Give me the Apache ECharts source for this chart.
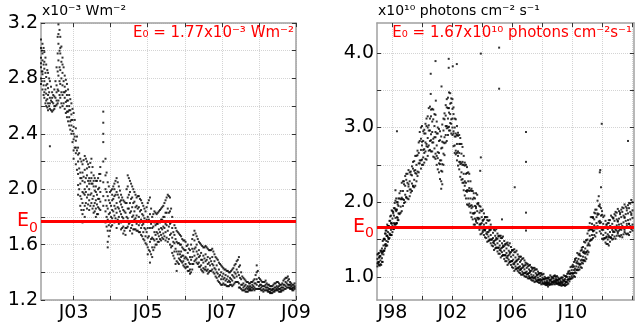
<!DOCTYPE html>
<html lang="en">
<head>
    <meta charset="UTF-8">
    <title>E0 irradiance and photon flux</title>
    <script src="https://cdn.jsdelivr.net/npm/echarts@6/dist/echarts.min.js"></script>
    <style>
        body { margin: 0; background: #fff; }
    </style>
</head>
<body>
<div id="chart" style="width: 635px;height: 323px;"></div>
<script>
    // left panel: [year, values...] read column by column (x10^-3 W m^-2)
    var leftCols = [
        [2002.12, 3.08,2.95,2.88,2.80,2.76,3.02,2.91],
        [2002.16, 3.05,2.98,2.85,2.72,2.83,2.93],
        [2002.21, 2.99,2.87,2.78,2.66,2.92,2.70],
        [2002.26, 2.90,2.81,2.69,2.60,2.75,2.64],
        [2002.31, 2.84,2.73,2.62,2.57,2.68],
        [2002.36, 2.78,2.66,2.58,2.31,2.62],
        [2002.42, 2.70,2.63,2.56,2.66],
        [2002.48, 2.72,2.60,2.67,2.58],
        [2002.54, 2.88,2.75,2.64,2.70,2.61],
        [2002.59, 3.19,3.05,2.93,2.82,2.71,2.64,3.12],
        [2002.64, 3.10,2.98,2.86,2.76,2.66,2.59,3.02],
        [2002.70, 2.95,2.84,2.75,2.68,2.60,2.90],
        [2002.76, 2.82,2.74,2.66,2.58,2.70],
        [2002.82, 2.76,2.68,2.60,2.52,2.64,2.56],
        [2002.88, 2.68,2.60,2.52,2.46,2.57],
        [2002.94, 2.62,2.54,2.46,2.40,2.50],
        [2003.00, 2.55,2.45,2.36,2.28,2.40,2.22],
        [2003.06, 2.44,2.35,2.26,2.18,2.30],
        [2003.12, 2.30,2.20,2.11,2.03,2.25,1.96],
        [2003.18, 2.22,2.12,2.04,1.95,1.88,2.08],
        [2003.24, 2.18,2.06,1.98,1.90,1.82,1.76,2.12],
        [2003.30, 2.24,2.14,2.05,1.96,1.88,1.80,2.00],
        [2003.36, 2.20,2.10,2.02,1.94,1.86,2.15],
        [2003.42, 2.16,2.08,2.00,1.92,1.85,2.04],
        [2003.48, 2.22,2.12,2.04,1.97,1.90,2.08],
        [2003.54, 2.10,2.02,1.95,1.88,1.83,2.06],
        [2003.60, 2.06,1.98,1.92,1.86,1.80,2.02],
        [2003.66, 2.08,2.00,1.93,1.87,1.82],
        [2003.72, 2.16,2.06,1.98,1.91,1.85,2.11],
        [2003.80, 2.56,2.48,2.40,2.34,2.20,2.05,1.95,1.88],
        [2003.86, 2.22,2.10,2.00,1.92,1.84,1.76],
        [2003.92, 2.05,1.95,1.86,1.78,1.70,1.62,1.58],
        [2003.98, 1.98,1.90,1.83,1.76,1.70],
        [2004.04, 2.00,1.92,1.85,1.79,1.74,1.96],
        [2004.10, 2.04,1.95,1.88,1.81,1.76,2.00],
        [2004.16, 2.08,1.98,1.90,1.83,1.77,1.72],
        [2004.22, 2.02,1.94,1.86,1.80,1.75],
        [2004.28, 1.96,1.89,1.82,1.76,1.71,1.92],
        [2004.34, 1.92,1.85,1.79,1.73,1.68],
        [2004.40, 1.90,1.83,1.77,1.72,1.67],
        [2004.46, 2.10,2.02,1.94,1.86,1.79,1.73],
        [2004.52, 2.06,1.98,1.90,1.83,1.76,1.70],
        [2004.58, 2.02,1.94,1.87,1.80,1.74,1.68],
        [2004.64, 1.98,1.91,1.84,1.78,1.71],
        [2004.70, 1.94,1.88,1.81,1.75,1.70],
        [2004.76, 1.95,1.87,1.80,1.74,1.69],
        [2004.82, 1.92,1.85,1.78,1.72,1.67],
        [2004.88, 1.88,1.81,1.75,1.69,1.64],
        [2004.94, 1.84,1.77,1.71,1.66,1.61],
        [2005.00, 1.90,1.80,1.72,1.65,1.58,1.53],
        [2005.06, 1.94,1.82,1.72,1.62,1.55,1.47],
        [2005.12, 1.80,1.72,1.65,1.58,1.51],
        [2005.18, 1.84,1.76,1.69,1.63,1.58],
        [2005.24, 1.82,1.75,1.69,1.64,1.60],
        [2005.30, 1.84,1.77,1.71,1.66,1.62],
        [2005.36, 1.86,1.78,1.72,1.67,1.63],
        [2005.42, 1.88,1.80,1.73,1.68,1.64],
        [2005.48, 1.92,1.83,1.75,1.69,1.63],
        [2005.54, 1.96,1.86,1.77,1.70,1.62],
        [2005.60, 1.94,1.84,1.75,1.67,1.60],
        [2005.66, 1.80,1.72,1.65,1.59,1.54],
        [2005.72, 1.74,1.67,1.61,1.55,1.50],
        [2005.78, 1.70,1.62,1.55,1.48,1.41],
        [2005.84, 1.68,1.61,1.55,1.50,1.46],
        [2005.90, 1.66,1.60,1.55,1.51,1.48],
        [2005.96, 1.63,1.57,1.52,1.48,1.45],
        [2006.02, 1.62,1.56,1.51,1.46,1.43],
        [2006.08, 1.60,1.54,1.49,1.44,1.41],
        [2006.14, 1.56,1.51,1.46,1.42,1.39],
        [2006.20, 1.64,1.57,1.51,1.46,1.42],
        [2006.26, 1.70,1.63,1.57,1.52,1.48],
        [2006.32, 1.66,1.60,1.55,1.50,1.47],
        [2006.38, 1.62,1.56,1.51,1.47,1.44],
        [2006.44, 1.60,1.54,1.49,1.45,1.42],
        [2006.50, 1.58,1.52,1.47,1.43,1.40],
        [2006.56, 1.59,1.53,1.48,1.44,1.42],
        [2006.62, 1.57,1.51,1.46,1.42,1.39],
        [2006.68, 1.56,1.50,1.45,1.41],
        [2006.74, 1.57,1.51,1.46,1.42],
        [2006.80, 1.53,1.48,1.43,1.39],
        [2006.86, 1.50,1.45,1.40,1.36],
        [2006.92, 1.47,1.42,1.37,1.33],
        [2006.98, 1.45,1.40,1.35,1.31],
        [2007.04, 1.43,1.39,1.35,1.32],
        [2007.10, 1.42,1.38,1.34,1.31],
        [2007.16, 1.41,1.37,1.33,1.30],
        [2007.22, 1.40,1.36,1.33,1.31],
        [2007.28, 1.42,1.38,1.34,1.30],
        [2007.34, 1.45,1.40,1.36,1.32],
        [2007.40, 1.48,1.42,1.37,1.33],
        [2007.46, 1.51,1.44,1.38,1.32,1.29],
        [2007.52, 1.40,1.35,1.31,1.28],
        [2007.58, 1.36,1.32,1.29,1.27],
        [2007.64, 1.34,1.31,1.28,1.26],
        [2007.70, 1.33,1.30,1.28,1.26],
        [2007.76, 1.32,1.30,1.28,1.27],
        [2007.82, 1.33,1.31,1.29,1.27],
        [2007.88, 1.35,1.32,1.29,1.27],
        [2007.94, 1.45,1.40,1.35,1.31,1.28],
        [2008.00, 1.36,1.33,1.30,1.28],
        [2008.06, 1.34,1.31,1.29,1.27],
        [2008.12, 1.33,1.30,1.28,1.26],
        [2008.18, 1.34,1.31,1.29,1.27],
        [2008.24, 1.31,1.29,1.27,1.26],
        [2008.30, 1.30,1.28,1.26,1.25],
        [2008.36, 1.30,1.28,1.27,1.25],
        [2008.42, 1.32,1.29,1.27,1.26],
        [2008.48, 1.33,1.30,1.28,1.27],
        [2008.54, 1.32,1.30,1.28,1.26],
        [2008.60, 1.31,1.29,1.27,1.26],
        [2008.66, 1.34,1.31,1.29,1.27],
        [2008.72, 1.36,1.33,1.30,1.28],
        [2008.78, 1.37,1.34,1.31,1.29],
        [2008.84, 1.33,1.31,1.29,1.28],
        [2008.90, 1.31,1.29,1.28,1.27],
        [2008.96, 1.32,1.30,1.29,1.28]
    ];

    // left panel, second pass between the columns above
    var leftCols2 = [
        [2002.14, 3.00,2.85,2.78], [2002.19, 3.02,2.90,2.75,2.68], [2002.24, 2.95,2.84,2.72,2.62],
        [2002.29, 2.86,2.76,2.65,2.59], [2002.34, 2.80,2.70,2.60], [2002.39, 2.74,2.64,2.57],
        [2002.45, 2.68,2.62,2.57], [2002.51, 2.78,2.66,2.60], [2002.57, 3.10,2.98,2.85,2.72,2.62],
        [2002.62, 3.15,3.00,2.88,2.78,2.68], [2002.67, 3.03,2.92,2.80,2.70,2.62], [2002.73, 2.88,2.78,2.70,2.62],
        [2002.79, 2.79,2.71,2.63,2.55], [2002.85, 2.72,2.64,2.56,2.49], [2002.91, 2.65,2.57,2.49,2.43],
        [2002.97, 2.58,2.50,2.42,2.34], [2003.03, 2.50,2.38,2.30], [2003.09, 2.38,2.28,2.14],
        [2003.15, 2.26,2.15,2.00], [2003.21, 2.20,2.08,1.93,1.85], [2003.27, 2.21,2.09,1.97,1.85],
        [2003.33, 2.22,2.08,1.98,1.90], [2003.39, 2.18,2.06,1.96,1.89], [2003.45, 2.19,2.06,1.96,1.88],
        [2003.51, 2.16,2.04,1.93,1.86], [2003.57, 2.08,1.99,1.90,1.84], [2003.63, 2.06,1.96,1.89,1.82],
        [2003.69, 2.11,2.01,1.93,1.86], [2003.89, 2.12,1.98,1.88,1.80,1.73], [2003.95, 2.02,1.92,1.82,1.74,1.66],
        [2004.01, 1.99,1.88,1.80,1.73], [2004.07, 2.02,1.93,1.84,1.77], [2004.13, 2.06,1.96,1.86,1.79],
        [2004.19, 2.05,1.96,1.87,1.78], [2004.25, 1.99,1.91,1.84,1.77], [2004.31, 1.94,1.87,1.80,1.72],
        [2004.37, 1.91,1.84,1.77,1.70], [2004.43, 2.00,1.90,1.80,1.72], [2004.49, 2.08,1.96,1.86,1.75],
        [2004.55, 2.04,1.93,1.84,1.72], [2004.61, 2.00,1.90,1.81,1.71], [2004.67, 1.96,1.87,1.79,1.71],
        [2004.73, 1.95,1.86,1.77,1.70], [2004.79, 1.93,1.84,1.76,1.69], [2004.85, 1.90,1.82,1.74,1.66],
        [2004.91, 1.86,1.79,1.72,1.63], [2004.97, 1.87,1.78,1.69,1.60], [2005.03, 1.92,1.78,1.66,1.56],
        [2005.09, 1.86,1.75,1.64,1.53], [2005.15, 1.82,1.73,1.64,1.56], [2005.21, 1.83,1.74,1.67,1.60],
        [2005.27, 1.83,1.75,1.68,1.62], [2005.33, 1.85,1.76,1.69,1.64], [2005.39, 1.87,1.78,1.71,1.65],
        [2005.45, 1.90,1.80,1.72,1.66], [2005.51, 1.94,1.83,1.74,1.65], [2005.57, 1.95,1.83,1.73,1.64],
        [2005.63, 1.86,1.76,1.68,1.58], [2005.69, 1.77,1.69,1.62,1.52], [2005.75, 1.72,1.64,1.57,1.46],
        [2005.81, 1.69,1.61,1.53,1.47], [2005.87, 1.67,1.60,1.53,1.49], [2005.93, 1.64,1.58,1.52,1.47],
        [2005.99, 1.63,1.56,1.50,1.44], [2006.05, 1.59,1.50,1.44], [2006.11, 1.57,1.47,1.41],
        [2006.17, 1.60,1.49,1.40], [2006.23, 1.67,1.55,1.46], [2006.29, 1.68,1.58,1.49],
        [2006.35, 1.64,1.53,1.46], [2006.41, 1.61,1.52,1.44], [2006.47, 1.59,1.49,1.41],
        [2006.53, 1.58,1.50,1.42], [2006.59, 1.58,1.49,1.41], [2006.65, 1.56,1.47,1.40],
        [2006.71, 1.56,1.48,1.41], [2006.77, 1.55,1.45,1.40], [2006.83, 1.51,1.42,1.37],
        [2006.89, 1.49,1.39,1.34], [2006.95, 1.46,1.38,1.32], [2007.01, 1.44,1.37,1.31],
        [2007.07, 1.42,1.36,1.31], [2007.13, 1.41,1.35,1.30], [2007.19, 1.40,1.34,1.30],
        [2007.25, 1.41,1.35,1.31], [2007.31, 1.43,1.37,1.31], [2007.37, 1.46,1.39,1.33],
        [2007.43, 1.49,1.40,1.33], [2007.49, 1.45,1.36,1.29], [2007.55, 1.37,1.31,1.27],
        [2007.61, 1.35,1.30,1.27], [2007.67, 1.33,1.29,1.26], [2007.73, 1.32,1.29,1.27],
        [2007.79, 1.33,1.29,1.27], [2007.85, 1.34,1.30,1.28], [2007.91, 1.38,1.32,1.28],
        [2007.97, 1.41,1.33,1.28], [2008.03, 1.35,1.31,1.28], [2008.09, 1.33,1.30,1.27],
        [2008.15, 1.33,1.30,1.27], [2008.21, 1.32,1.29,1.27], [2008.27, 1.31,1.28,1.26],
        [2008.33, 1.30,1.27,1.25], [2008.39, 1.31,1.28,1.26], [2008.45, 1.32,1.29,1.27],
        [2008.51, 1.33,1.29,1.27], [2008.57, 1.31,1.28,1.26], [2008.63, 1.32,1.29,1.27],
        [2008.69, 1.35,1.31,1.28], [2008.75, 1.36,1.32,1.29], [2008.81, 1.35,1.31,1.29],
        [2008.87, 1.32,1.30,1.28], [2008.93, 1.31,1.29,1.27]
    ];

    // right panel: [year, values...] (x10^10 photons cm^-2 s^-1)
    var rightCols = [
        [1997.00, 1.30,1.24,1.18,1.14],
        [1997.10, 1.32,1.26,1.20,1.16],
        [1997.20, 1.35,1.28,1.22,1.17],
        [1997.30, 1.38,1.31,1.25,1.20],
        [1997.40, 1.50,1.42,1.35,1.30],
        [1997.50, 1.58,1.50,1.43,1.38],
        [1997.60, 1.62,1.55,1.48,1.42],
        [1997.70, 1.68,1.60,1.53,1.47],
        [1997.80, 1.75,1.66,1.58,1.52],
        [1997.90, 1.82,1.72,1.63,1.56],
        [1998.00, 1.88,1.78,1.68,1.60],
        [1998.10, 1.92,1.82,1.72,1.64],
        [1998.20, 2.02,1.90,1.79,1.70,2.16],
        [1998.30, 2.00,1.90,1.80,1.72],
        [1998.40, 2.05,1.95,1.85,1.76],
        [1998.55, 2.15,2.04,1.94,1.86],
        [1998.70, 2.28,2.15,2.04,1.95],
        [1998.85, 2.35,2.22,2.10,2.00],
        [1999.00, 2.38,2.26,2.15,2.05],
        [1999.15, 2.40,2.28,2.17,2.08],
        [1999.30, 2.48,2.36,2.25,2.15],
        [1999.45, 2.55,2.42,2.30,2.20],
        [1999.60, 2.62,2.50,2.38,2.28],
        [1999.75, 2.80,2.66,2.52,2.40],
        [1999.90, 3.00,2.85,2.70,2.56,2.45],
        [2000.05, 2.95,2.82,2.70,2.60,2.50],
        [2000.20, 3.05,2.92,2.80,2.68,2.58],
        [2000.35, 3.15,3.00,2.86,2.74,2.62],
        [2000.50, 3.28,3.12,2.96,2.82,2.70],
        [2000.65, 3.25,3.08,2.94,2.80,2.68],
        [2000.80, 3.18,3.02,2.87,2.72,2.60],
        [2000.95, 3.08,2.92,2.76,2.62,2.50],
        [2001.10, 2.98,2.82,2.66,2.52,2.40],
        [2001.25, 2.88,2.72,2.56,2.42,2.28,2.18],
        [2001.40, 3.12,2.96,2.80,2.65,2.50],
        [2001.55, 3.30,3.16,3.02,2.90,2.80],
        [2001.70, 3.40,3.26,3.12,3.00,2.90],
        [2001.85, 3.46,3.32,3.18,3.06,2.96],
        [2002.00, 3.38,3.25,3.12,3.00,2.90],
        [2002.15, 3.12,3.00,2.88,2.76,2.66],
        [2002.30, 3.02,2.90,2.78,2.66,2.56],
        [2002.45, 2.90,2.78,2.66,2.54,2.44],
        [2002.60, 2.78,2.65,2.52,2.40,2.30],
        [2002.75, 2.62,2.50,2.38,2.26,2.16],
        [2002.90, 2.50,2.38,2.26,2.15,2.05],
        [2003.05, 2.40,2.28,2.16,2.05,1.96],
        [2003.20, 2.28,2.16,2.05,1.95,1.86],
        [2003.35, 2.15,2.04,1.94,1.85,1.77],
        [2003.50, 2.05,1.95,1.86,1.78,1.70],
        [2003.65, 2.10,1.98,1.88,1.79,1.72],
        [2003.80, 1.95,1.86,1.78,1.70,1.63],
        [2003.95, 1.88,1.80,1.72,1.65,1.58],
        [2004.10, 1.85,1.77,1.70,1.63,1.56],
        [2004.25, 1.80,1.72,1.65,1.58,1.52],
        [2004.40, 1.75,1.67,1.60,1.54,1.48],
        [2004.55, 1.70,1.63,1.56,1.50,1.45],
        [2004.70, 1.66,1.59,1.52,1.46,1.41],
        [2004.85, 1.62,1.55,1.49,1.43,1.38],
        [2005.00, 1.58,1.51,1.45,1.39,1.34],
        [2005.15, 1.55,1.48,1.42,1.36,1.31],
        [2005.30, 1.52,1.45,1.39,1.33,1.28],
        [2005.45, 1.48,1.41,1.35,1.29,1.24],
        [2005.60, 1.45,1.38,1.32,1.26,1.21],
        [2005.75, 1.42,1.35,1.29,1.23,1.18],
        [2005.90, 1.40,1.33,1.27,1.21,1.16],
        [2006.05, 1.36,1.29,1.23,1.17,1.12],
        [2006.20, 1.33,1.26,1.20,1.14,1.10],
        [2006.35, 1.30,1.23,1.17,1.12,1.08],
        [2006.50, 1.27,1.20,1.14,1.09,1.05],
        [2006.65, 1.24,1.17,1.12,1.07,1.03],
        [2006.80, 1.22,1.15,1.10,1.05,1.01],
        [2006.95, 1.18,1.12,1.07,1.03,1.00],
        [2007.10, 1.15,1.10,1.05,1.01,0.98],
        [2007.25, 1.13,1.08,1.03,0.99,0.96],
        [2007.40, 1.12,1.07,1.02,0.98,0.95],
        [2007.55, 1.10,1.05,1.00,0.97,0.94],
        [2007.70, 1.07,1.03,0.99,0.96,0.93],
        [2007.85, 1.05,1.01,0.97,0.94,0.92],
        [2008.00, 1.03,0.99,0.96,0.93,0.91],
        [2008.15, 1.00,0.97,0.94,0.92,0.90],
        [2008.30, 0.98,0.95,0.93,0.91,0.89],
        [2008.45, 0.99,0.96,0.93,0.91,0.89],
        [2008.60, 1.00,0.97,0.94,0.92,0.90],
        [2008.75, 1.01,0.98,0.95,0.93,0.91],
        [2008.90, 1.00,0.97,0.95,0.93,0.91],
        [2009.05, 0.99,0.96,0.94,0.92,0.90],
        [2009.20, 0.98,0.95,0.93,0.91,0.89],
        [2009.35, 0.99,0.96,0.93,0.91,0.89],
        [2009.50, 1.01,0.97,0.94,0.91,0.88],
        [2009.65, 1.04,1.00,0.96,0.93,0.90],
        [2009.80, 1.08,1.04,1.00,0.97,0.94],
        [2009.95, 1.14,1.09,1.05,1.01,0.98],
        [2010.10, 1.20,1.14,1.09,1.05,1.01],
        [2010.25, 1.25,1.19,1.14,1.09,1.05],
        [2010.40, 1.30,1.24,1.18,1.13,1.09],
        [2010.55, 1.35,1.28,1.22,1.17,1.13],
        [2010.70, 1.40,1.33,1.27,1.22,1.18],
        [2010.85, 1.46,1.38,1.31,1.26,1.21],
        [2011.00, 1.58,1.50,1.42,1.35,1.30],
        [2011.15, 1.72,1.63,1.55,1.48,1.42],
        [2011.30, 1.80,1.71,1.63,1.56,1.50],
        [2011.45, 1.86,1.77,1.69,1.62,1.56],
        [2011.60, 1.90,1.80,1.72,1.65,1.59],
        [2011.75, 2.08,1.95,1.84,1.74,1.66],
        [2011.90, 1.92,1.82,1.73,1.65,1.58,2.20],
        [2012.05, 1.80,1.71,1.63,1.56,1.50],
        [2012.20, 1.75,1.67,1.59,1.52,1.46],
        [2012.35, 1.72,1.64,1.57,1.50,1.44],
        [2012.50, 1.76,1.68,1.60,1.53,1.47],
        [2012.65, 1.80,1.71,1.63,1.56,1.50],
        [2012.80, 1.84,1.75,1.67,1.60,1.54],
        [2012.95, 1.86,1.77,1.69,1.62,1.55],
        [2013.10, 1.88,1.78,1.70,1.62,1.55],
        [2013.25, 1.90,1.80,1.71,1.63,1.56],
        [2013.40, 1.92,1.82,1.73,1.65,1.57],
        [2013.55, 1.94,1.84,1.75,1.66,1.58],
        [2013.70, 1.96,1.85,1.76,1.67,1.58],
        [2013.85, 1.98,1.87,1.77,1.68,1.60],
        [2014.00, 2.00,1.89,1.79,1.70,1.62]
    ];

    // right panel, second pass between the columns above (scattered values)
    var rightCols2 = [
        [1997.05, 1.31,1.18,1.20], [1997.15, 1.26,1.28,1.15], [1997.25, 1.35,1.33,1.16],
        [1997.35, 1.48,1.33,1.34,1.20], [1997.45, 1.51,1.51,1.35,1.35], [1997.55, 1.62,1.58,1.41,1.44],
        [1997.65, 1.70,1.55,1.55,1.42], [1997.75, 1.68,1.68,1.51,1.51], [1997.85, 1.81,1.75,1.56,1.57],
        [1997.95, 1.89,1.72,1.71,1.56], [1998.05, 1.87,1.85,1.66,1.64], [1998.15, 1.99,1.92,1.70,1.71],
        [1998.25, 2.05,1.90,1.88,1.72,1.71], [1998.35, 2.00,1.97,1.79,1.76], [1998.47, 2.12,2.05,1.85,1.84],
        [1998.62, 2.26,2.06,2.04,1.88], [1998.77, 2.28,2.24,2.03,1.99], [1998.92, 2.38,2.30,2.07,2.06],
        [1999.07, 2.43,2.24,2.21,2.04], [1999.22, 2.41,2.37,2.17,2.13], [1999.37, 2.54,2.45,2.22,2.21],
        [1999.52, 2.62,2.43,2.39,2.22], [1999.67, 2.69,2.63,2.41,2.35], [1999.82, 2.94,2.82,2.56,2.52],
        [1999.97, 3.02,2.81,2.76,2.57,2.50], [2000.12, 2.97,2.92,2.71,2.66,2.53], [2000.27, 3.12,3.02,2.78,2.75,2.57],
        [2000.42, 3.26,3.03,2.96,2.76,2.69], [2000.57, 3.24,3.15,2.91,2.83,2.68], [2000.72, 3.24,3.11,2.85,2.80,2.61],
        [2000.87, 3.17,2.94,2.87,2.65,2.58], [2001.02, 3.00,2.92,2.67,2.59,2.44], [2001.17, 2.95,2.83,2.56,2.51,2.31],
        [2001.32, 3.04,2.81,2.73,2.51,2.41,2.24], [2001.47, 3.19,3.11,2.87,2.79,2.63], [2001.62, 3.38,3.27,3.02,2.99,2.82],
        [2001.77, 3.47,3.26,3.20,3.01,2.96], [2001.92, 3.39,3.33,3.11,3.05,2.92], [2002.07, 3.27,3.18,2.95,2.92,2.75],
        [2002.22, 3.11,2.92,2.88,2.69,2.64], [2002.37, 2.93,2.89,2.68,2.62,2.49], [2002.52, 2.86,2.78,2.54,2.51,2.34],
        [2002.67, 2.74,2.54,2.50,2.31,2.26], [2002.82, 2.53,2.49,2.28,2.22,2.09], [2002.97, 2.47,2.39,2.16,2.14,1.97],
        [2003.12, 2.38,2.19,2.15,1.98,1.94], [2003.27, 2.18,2.15,1.96,1.92,1.80], [2003.42, 2.12,2.06,1.85,1.85,1.70],
        [2003.57, 2.12,1.94,1.92,1.76,1.74], [2003.72, 1.99,1.97,1.79,1.77,1.66], [2003.87, 1.94,1.89,1.70,1.71,1.57],
        [2004.02, 1.90,1.75,1.76,1.62,1.60], [2004.17, 1.80,1.80,1.63,1.62,1.53], [2004.32, 1.80,1.76,1.57,1.60,1.47],
        [2004.47, 1.76,1.62,1.63,1.50,1.49], [2004.62, 1.65,1.66,1.50,1.50,1.42], [2004.77, 1.66,1.63,1.45,1.48,1.36],
        [2004.92, 1.64,1.50,1.52,1.39,1.39], [2005.07, 1.54,1.55,1.39,1.39,1.31], [2005.22, 1.55,1.52,1.35,1.38,1.26],
        [2005.37, 1.54,1.40,1.42,1.29,1.29], [2005.52, 1.43,1.44,1.29,1.29,1.21], [2005.67, 1.46,1.43,1.25,1.28,1.16],
        [2005.82, 1.45,1.31,1.33,1.20,1.20], [2005.97, 1.35,1.36,1.21,1.21,1.13], [2006.12, 1.37,1.33,1.17,1.19,1.08],
        [2006.27, 1.35,1.21,1.22,1.11,1.11], [2006.42, 1.27,1.24,1.13,1.11,1.06], [2006.57, 1.27,1.22,1.11,1.10,1.03],
        [2006.72, 1.25,1.15,1.13,1.05,1.03], [2006.87, 1.19,1.16,1.06,1.05,1.00], [2007.02, 1.17,1.14,1.04,1.04,0.98],
        [2007.17, 1.16,1.08,1.06,0.99,0.98], [2007.32, 1.12,1.10,1.00,0.99,0.95], [2007.47, 1.12,1.09,0.99,0.99,0.93],
        [2007.62, 1.10,1.03,1.02,0.95,0.94], [2007.77, 1.05,1.04,0.96,0.96,0.92], [2007.92, 1.05,1.03,0.95,0.96,0.90],
        [2008.07, 1.04,0.97,0.97,0.91,0.91], [2008.22, 0.98,0.98,0.91,0.92,0.89], [2008.37, 0.99,0.98,0.90,0.92,0.87],
        [2008.52, 1.02,0.95,0.96,0.90,0.90], [2008.67, 0.99,0.99,0.93,0.93,0.90], [2008.82, 1.02,1.01,0.93,0.95,0.90],
        [2008.97, 1.01,0.95,0.96,0.91,0.91], [2009.12, 0.97,0.97,0.91,0.92,0.89], [2009.27, 0.99,0.99,0.91,0.93,0.88],
        [2009.42, 1.02,0.95,0.95,0.89,0.89], [2009.57, 1.01,1.00,0.93,0.93,0.89], [2009.72, 1.07,1.05,0.96,0.97,0.91],
        [2009.87, 1.13,1.05,1.04,0.98,0.97], [2010.02, 1.16,1.13,1.05,1.04,0.99], [2010.17, 1.24,1.22,1.06,1.11,1.00],
        [2010.32, 1.32,1.18,1.21,1.09,1.10], [2010.47, 1.29,1.31,1.16,1.17,1.10], [2010.62, 1.39,1.36,1.19,1.23,1.12],
        [2010.77, 1.47,1.32,1.34,1.22,1.22], [2010.92, 1.49,1.49,1.33,1.33,1.24], [2011.07, 1.67,1.62,1.43,1.45,1.33],
        [2011.22, 1.80,1.64,1.64,1.50,1.49], [2011.37, 1.80,1.79,1.62,1.61,1.52], [2011.52, 1.90,1.85,1.65,1.67,1.54],
        [2011.67, 2.02,1.85,1.83,1.68,1.65], [2011.82, 1.97,1.94,1.75,1.72,1.61], [2011.97, 1.88,1.83,1.63,1.65,1.51],
        [2012.12, 1.82,1.66,1.66,1.52,1.51], [2012.27, 1.70,1.70,1.54,1.53,1.44], [2012.42, 1.76,1.72,1.53,1.55,1.42],
        [2012.57, 1.82,1.67,1.67,1.53,1.52], [2012.72, 1.79,1.78,1.61,1.60,1.51], [2012.87, 1.87,1.82,1.63,1.65,1.51],
        [2013.02, 1.91,1.75,1.74,1.60,1.58], [2013.17, 1.86,1.84,1.66,1.64,1.54], [2013.32, 1.93,1.87,1.67,1.68,1.53],
        [2013.47, 1.97,1.80,1.79,1.63,1.60], [2013.62, 1.92,1.89,1.71,1.68,1.57], [2013.77, 1.99,1.92,1.71,1.71,1.56],
        [2013.92, 2.03,1.85,1.83,1.67,1.64]
    ];

    // isolated points of the right panel
    var rightOutliers = [
        [1998.30, 2.95], [2000.55, 3.72], [2000.55, 3.45], [2000.87, 3.89], [2000.89, 3.36],
        [2001.27, 3.55], [2001.75, 3.92], [2001.75, 3.80], [2002.02, 3.82], [2002.29, 3.85],
        [2003.85, 2.42], [2003.89, 2.60], [2003.89, 3.99], [2005.11, 4.07], [2005.11, 3.52],
        [2005.30, 1.77], [2006.15, 2.20], [2006.90, 2.94], [2006.90, 2.54], [2006.90, 1.86],
        [2006.90, 1.62], [2011.82, 2.40], [2011.85, 2.43], [2011.95, 3.05], [2013.70, 2.82]
    ];

    var leftE0 = 1.77;
    var rightE0 = 1.67;

    var leftXTicks = [2003, 2004, 2005, 2006, 2007, 2008, 2009];
    var leftXLabels = [2003, 2005, 2007, 2009];
    var leftYTicks = [1.2, 1.4, 1.6, 1.8, 2.0, 2.2, 2.4, 2.6, 2.8, 3.0, 3.2];
    var leftYLabels = [1.2, 1.6, 2.0, 2.4, 2.8, 3.2];
    var rightXTicks = [1998, 2000, 2002, 2004, 2006, 2008, 2010, 2012, 2014];
    var rightXLabels = [1998, 2002, 2006, 2010];
    var rightYTicks = [1.0, 1.5, 2.0, 2.5, 3.0, 3.5, 4.0];
    var rightYLabels = [1.0, 2.0, 3.0, 4.0];

    function flatten(cols) {
        var pts = [];
        cols.forEach(function (c) {
            for (var i = 1; i < c.length; i++) pts.push([c[0], c[i]]);
        });
        return pts;
    }

    var leftPts = flatten(leftCols).concat(flatten(leftCols2));
    var rightPts = flatten(rightCols).concat(flatten(rightCols2), rightOutliers);

    var FONT = 'DejaVu Sans';
    var spine = {show: true, lineStyle: {color: '#a0a0a0', width: 1.5}};
    var grid = {show: true, lineStyle: {color: '#d4d4d4', type: 'dotted', width: 1}};

    function yearLabel(v) {
        return 'J' + String(Math.round(v) % 100).padStart(2, '0');
    }

    function xAxisPair(gi, min, max, ticks, labels) {
        return [{
            gridIndex: gi, type: 'value', min: min, max: max, position: 'bottom',
            axisLine: spine,
            axisTick: {show: true, inside: true, length: 4, customValues: ticks, lineStyle: {color: '#333'}},
            axisLabel: {customValues: labels, formatter: yearLabel, fontSize: 19, color: '#000',
                fontFamily: FONT, margin: 4},
            splitLine: grid
        }, {
            gridIndex: gi, type: 'value', min: min, max: max, position: 'top',
            axisLine: spine,
            axisTick: {show: true, inside: true, length: 4, customValues: ticks, lineStyle: {color: '#333'}},
            axisLabel: {show: false},
            splitLine: {show: false}
        }];
    }

    function yAxisPair(gi, min, max, ticks, labels) {
        return [{
            gridIndex: gi, type: 'value', min: min, max: max, position: 'left',
            axisLine: spine,
            axisTick: {show: true, inside: true, length: 4, customValues: ticks, lineStyle: {color: '#333'}},
            axisLabel: {customValues: labels, formatter: function (v) { return v.toFixed(1); },
                fontSize: 19, color: '#000', fontFamily: FONT, margin: 3},
            splitLine: grid
        }, {
            gridIndex: gi, type: 'value', min: min, max: max, position: 'right',
            axisLine: spine,
            axisTick: {show: true, inside: true, length: 4, customValues: ticks, lineStyle: {color: '#333'}},
            axisLabel: {show: false},
            splitLine: {show: false}
        }];
    }

    function e0Line(value) {
        return {
            silent: true,
            symbol: 'none',
            animation: false,
            lineStyle: {color: '#ff0000', width: 3, type: 'solid'},
            label: {
                show: true, position: 'start', distance: 3,
                formatter: '{e|E}{s|0}',
                rich: {
                    e: {color: '#ff0000', fontSize: 19, fontFamily: FONT, verticalAlign: 'bottom', lineHeight: 20},
                    s: {color: '#ff0000', fontSize: 14, fontFamily: FONT, verticalAlign: 'bottom', lineHeight: 14, padding: [0, 0, -4, 0]}
                }
            },
            data: [{yAxis: value}]
        };
    }

    var myChart = echarts.init(document.getElementById('chart'));
    var option = {
        animation: false,
        backgroundColor: '#fff',
        textStyle: {fontFamily: FONT},
        title: [
            {text: 'x10⁻³ Wm⁻²', left: 42, top: 4, padding: 0,
                textStyle: {fontSize: 14, fontWeight: 'normal', color: '#000', fontFamily: FONT}},
            {text: 'E₀ = 1.77x10⁻³ Wm⁻²', right: 341, top: 26, padding: 0,
                textStyle: {fontSize: 15, fontWeight: 'normal', color: '#ff0000', fontFamily: FONT}},
            {text: 'x10¹⁰ photons cm⁻² s⁻¹', left: 378, top: 4, padding: 0,
                textStyle: {fontSize: 14, fontWeight: 'normal', color: '#000', fontFamily: FONT}},
            {text: 'E₀ = 1.67x10¹⁰ photons cm⁻²s⁻¹', right: 3, top: 26, padding: 0,
                textStyle: {fontSize: 15, fontWeight: 'normal', color: '#ff0000', fontFamily: FONT}}
        ],
        grid: [
            {left: 41, top: 23, width: 255, height: 277},
            {left: 377, top: 23, width: 257, height: 277}
        ],
        xAxis: xAxisPair(0, 2002.12, 2009.0, leftXTicks, leftXLabels)
            .concat(xAxisPair(1, 1996.97, 2014.1, rightXTicks, rightXLabels)),
        yAxis: yAxisPair(0, 1.2, 3.2, leftYTicks, leftYLabels)
            .concat(yAxisPair(1, 0.69, 4.4, rightYTicks, rightYLabels)),
        series: [{
            type: 'scatter',
            xAxisIndex: 0, yAxisIndex: 0,
            symbol: 'rect', symbolSize: 2,
            itemStyle: {color: '#000'},
            data: leftPts,
            markLine: e0Line(leftE0)
        }, {
            type: 'scatter',
            xAxisIndex: 2, yAxisIndex: 2,
            symbol: 'rect', symbolSize: 2,
            itemStyle: {color: '#000'},
            data: rightPts,
            markLine: e0Line(rightE0)
        }]
    };
    myChart.setOption(option);
</script>
</body>
</html>
